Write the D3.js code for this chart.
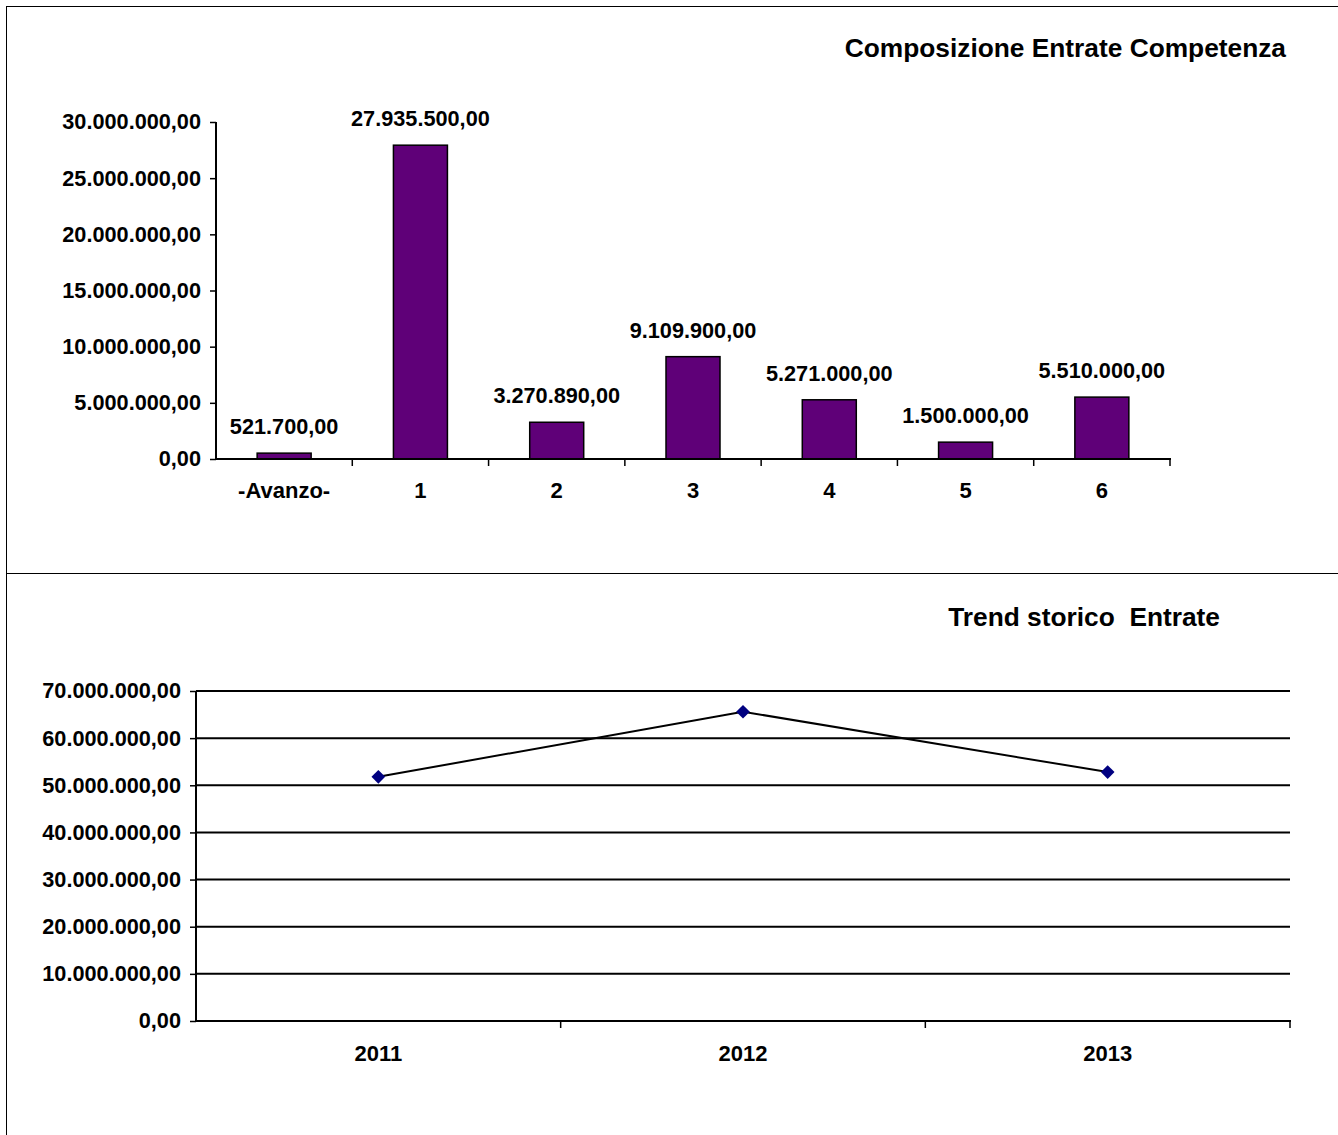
<!DOCTYPE html>
<html>
<head>
<meta charset="utf-8">
<script src="https://cdn.jsdelivr.net/npm/d3@7"></script>
<style>
  body { margin: 0; background: #fff; }
  svg { display: block; }
  text { font-family: "Liberation Sans", Arial, sans-serif; font-weight: bold; fill: #000; }
</style>
</head>
<body>
<svg width="1338" height="1135"></svg>
<script>
// bar chart data
var barCategories = ["-Avanzo-", "1", "2", "3", "4", "5", "6"];
var barValues = [521700, 27935500, 3270890, 9109900, 5271000, 1500000, 5510000];
var barTicks = [0, 5000000, 10000000, 15000000, 20000000, 25000000, 30000000];

// trend data
var trendYears = ["2011", "2012", "2013"];
var trendValues = [51800000, 65600000, 52800000];
var trendTicks = [0, 10000000, 20000000, 30000000, 40000000, 50000000, 60000000, 70000000];

var it = d3.formatLocale({decimal: ",", thousands: ".", grouping: [3], currency: ["", ""]});
var fmt = it.format(",.2f");

var numSize = "21.7px";
var labSize = "22px";
var titleSize = "26.3px";

var svg = d3.select("svg");

// frame lines
svg.append("line").attr("x1", 6).attr("x2", 1338).attr("y1", 6.5).attr("y2", 6.5).attr("stroke", "#000");
svg.append("line").attr("x1", 6.5).attr("x2", 6.5).attr("y1", 6).attr("y2", 1135).attr("stroke", "#000");
svg.append("line").attr("x1", 6).attr("x2", 1338).attr("y1", 573.5).attr("y2", 573.5).attr("stroke", "#000");

// ---- bar chart ----
var by = d3.scaleLinear().domain([0, 30000000]).range([459, 122]);
var step = (1170 - 216) / barCategories.length;

svg.append("text")
  .attr("x", 1286).attr("y", 57)
  .attr("text-anchor", "end")
  .style("font-size", titleSize)
  .text("Composizione Entrate Competenza");

var gy = svg.append("g").attr("transform", "translate(216,0)")
  .call(d3.axisLeft(by).tickValues(barTicks).tickFormat(fmt).tickSize(6).tickPadding(9));
gy.select(".domain").attr("stroke-width", 2).attr("d", "M0,122V459");
gy.selectAll(".tick line").attr("stroke-width", 1.5);
gy.selectAll("text").style("font-size", numSize).style("font-family", "Liberation Sans, Arial, sans-serif").attr("fill", "#000");

svg.append("g").selectAll("rect")
  .data(barValues)
  .enter()
  .append("rect")
  .attr("x", function (d, i) { return 216 + step * i + (step - 54) / 2; })
  .attr("y", function (d) { return by(d); })
  .attr("width", 54)
  .attr("height", function (d) { return 459 - by(d); })
  .attr("fill", "#5f0078")
  .attr("stroke", "#000")
  .attr("stroke-width", 1.5);

svg.append("g").selectAll("text")
  .data(barValues)
  .enter()
  .append("text")
  .attr("x", function (d, i) { return 216 + step * i + step / 2; })
  .attr("y", function (d) { return by(d) - 19; })
  .attr("text-anchor", "middle")
  .style("font-size", numSize)
  .text(function (d) { return fmt(d); });

// category axis
svg.append("line").attr("x1", 216).attr("x2", 1171).attr("y1", 459).attr("y2", 459).attr("stroke", "#000").attr("stroke-width", 2);
svg.append("g").selectAll("line")
  .data(barCategories)
  .enter()
  .append("line")
  .attr("x1", function (d, i) { return 216 + step * (i + 1); })
  .attr("x2", function (d, i) { return 216 + step * (i + 1); })
  .attr("y1", 459).attr("y2", 466)
  .attr("stroke", "#000").attr("stroke-width", 1.5);
svg.append("g").selectAll("text")
  .data(barCategories)
  .enter()
  .append("text")
  .attr("x", function (d, i) { return 216 + step * i + step / 2; })
  .attr("y", 498)
  .attr("text-anchor", "middle")
  .style("font-size", labSize)
  .text(function (d) { return d; });

// ---- trend line chart ----
var lx = d3.scalePoint().domain(trendYears).range([196, 1290]).padding(0.5);
var ly = d3.scaleLinear().domain([0, 70000000]).range([1021, 691]);

svg.append("text")
  .attr("x", 1220).attr("y", 626)
  .attr("text-anchor", "end")
  .style("font-size", titleSize)
  .style("white-space", "pre")
  .attr("xml:space", "preserve")
  .text("Trend storico  Entrate");

// gridlines
svg.append("g").selectAll("line")
  .data(trendTicks.slice(1))
  .enter()
  .append("line")
  .attr("x1", 196).attr("x2", 1290)
  .attr("y1", function (d) { return ly(d); })
  .attr("y2", function (d) { return ly(d); })
  .attr("stroke", "#000").attr("stroke-width", 2);

var lyAxis = svg.append("g").attr("transform", "translate(196,0)")
  .call(d3.axisLeft(ly).tickValues(trendTicks).tickFormat(fmt).tickSize(6).tickPadding(9));
lyAxis.select(".domain").attr("stroke-width", 2).attr("d", "M0,691V1021");
lyAxis.selectAll(".tick line").attr("stroke-width", 1.5);
lyAxis.selectAll("text").style("font-size", numSize).style("font-family", "Liberation Sans, Arial, sans-serif").attr("fill", "#000");

// x axis
var lstep = (1290 - 196) / trendYears.length;
svg.append("line").attr("x1", 196).attr("x2", 1291).attr("y1", 1021).attr("y2", 1021).attr("stroke", "#000").attr("stroke-width", 2);
svg.append("g").selectAll("line")
  .data(trendYears)
  .enter()
  .append("line")
  .attr("x1", function (d, i) { return 196 + lstep * (i + 1); })
  .attr("x2", function (d, i) { return 196 + lstep * (i + 1); })
  .attr("y1", 1021).attr("y2", 1028)
  .attr("stroke", "#000").attr("stroke-width", 1.5);
svg.append("g").selectAll("text")
  .data(trendYears)
  .enter()
  .append("text")
  .attr("x", function (d) { return lx(d); })
  .attr("y", 1061)
  .attr("text-anchor", "middle")
  .style("font-size", labSize)
  .text(function (d) { return d; });

var line = d3.line()
  .x(function (d, i) { return lx(trendYears[i]); })
  .y(function (d) { return ly(d); });

svg.append("path")
  .datum(trendValues)
  .attr("d", line)
  .attr("fill", "none")
  .attr("stroke", "#000")
  .attr("stroke-width", 2);

svg.append("g").selectAll("path")
  .data(trendValues)
  .enter()
  .append("path")
  .attr("d", d3.symbol().type(d3.symbolDiamond2).size(120))
  .attr("transform", function (d, i) { return "translate(" + lx(trendYears[i]) + "," + ly(d) + ")"; })
  .attr("fill", "#000080");
</script>
</body>
</html>
